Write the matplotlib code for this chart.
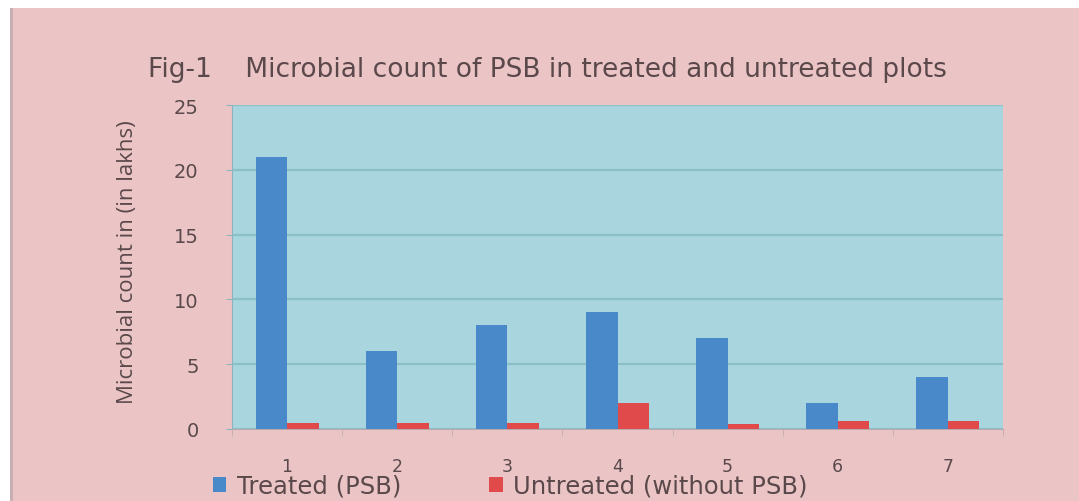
import matplotlib
matplotlib.use("Agg")
import matplotlib.pyplot as plt
import numpy as np
from matplotlib.patches import Rectangle, Patch

# Data
plots = ["1", "2", "3", "4", "5", "6", "7"]
treated = [21, 6, 8, 9, 7, 2, 4]
untreated = [0.5, 0.5, 0.5, 2, 0.4, 0.6, 0.6]
y_ticks = [0, 5, 10, 15, 20, 25]

BLUE = "#4A89C9"
RED = "#E04A4B"
PLOT_BG = "#A9D6DE"
FIG_BG = "#EBC5C6"
GRID = "#8CC0C9"
TEXT = "#5A484B"

plt.rcParams["font.family"] = ["DejaVu Sans"]

W, H = 1079, 502
fig = plt.figure(figsize=(W / 100, H / 100), dpi=100, facecolor="white")

# pink card behind the chart, with a thin shaded left edge
fig.add_artist(Rectangle((10 / W, 0), 1 - 10 / W, 1 - 9 / H,
                         transform=fig.transFigure, facecolor=FIG_BG,
                         edgecolor="none", zorder=-10))
fig.add_artist(Rectangle((10 / W, 0), 3 / W, 1 - 9 / H,
                         transform=fig.transFigure, facecolor="#C9AFB1",
                         edgecolor="none", zorder=-9))

ax = fig.add_axes([232 / W, 1 - 430 / H, 771 / W, 324 / H])
ax.set_facecolor(PLOT_BG)

x = np.arange(len(plots))
bw = 1 / 3.5
ax.bar(x - bw / 2, treated, width=bw, color=BLUE, zorder=3, label="Treated (PSB)")
ax.bar(x + bw / 2, untreated, width=bw, color=RED, zorder=3,
       label="Untreated (without PSB)")

ax.set_xlim(-0.5, len(plots) - 0.5)
ax.set_ylim(0, 25)
ax.set_yticks(y_ticks)
ax.set_yticklabels([str(v) for v in y_ticks])
ax.set_xticks(x)
ax.set_xticklabels(plots)
ax.set_xticks(np.arange(len(plots) + 1) - 0.5, minor=True)

ax.yaxis.grid(True, color=GRID, linewidth=1.6, zorder=1)
ax.set_axisbelow(True)

for s in ["top", "right"]:
    ax.spines[s].set_visible(False)
ax.spines["left"].set_color("#8FB3BA")
ax.spines["bottom"].set_color("#B9A9AC")

ax.tick_params(axis="x", which="major", length=0, pad=20, labelsize=12.5,
               labelcolor=TEXT)
ax.tick_params(axis="x", which="minor", length=5, color="#C2AEB0", direction="out")
ax.tick_params(axis="y", which="major", length=4, color="#8FB3BA", pad=20,
               labelsize=14, labelcolor=TEXT)

fig.text(128 / W, 1 - 262 / H, "Microbial count in (in lakhs)", rotation=90,
         ha="center", va="center", fontsize=16, color=TEXT,
         family=["Open Sans", "DejaVu Sans"])

fig.text(148 / W, 1 - 70 / H,
         "Fig-1    Microbial count of PSB in treated and untreated plots",
         ha="left", va="center", fontsize=19, color=TEXT)

handles = [Patch(facecolor=BLUE, edgecolor="none"),
           Patch(facecolor=RED, edgecolor="none")]
fig.legend(handles, ["Treated (PSB)", "Untreated (without PSB)"],
           loc="center left", bbox_to_anchor=(213 / W, 1 - 487 / H),
           ncol=2, frameon=False, fontsize=17.5, labelcolor=TEXT,
           handlelength=0.55, handleheight=0.55, handletextpad=0.45,
           columnspacing=3.6, borderpad=0, borderaxespad=0)

fig.savefig("out.png", dpi=100, facecolor=fig.get_facecolor())
